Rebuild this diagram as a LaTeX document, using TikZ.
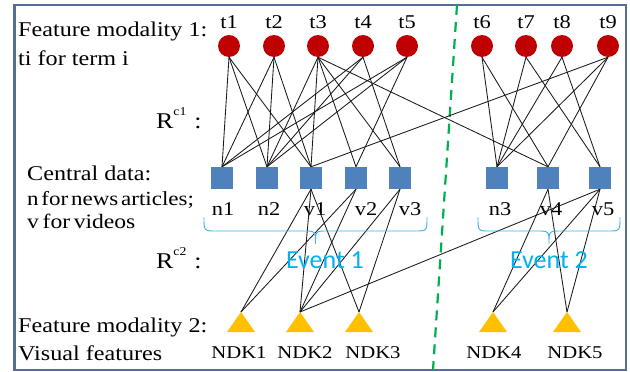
\documentclass[tikz,border=0pt]{standalone}
\usepackage{fontspec}
\setmainfont{Liberation Serif}[FakeStretch=1.15]
\newfontfamily\evfont{Carlito}
\definecolor{termred}{RGB}{192,0,0}
\definecolor{docblue}{RGB}{79,129,189}
\definecolor{ndkgold}{RGB}{255,192,0}
\definecolor{evblue}{RGB}{0,176,240}
\definecolor{braceblue}{RGB}{60,180,230}
\definecolor{dashgreen}{RGB}{0,176,80}
\definecolor{framecol}{RGB}{85,110,145}
\tikzset{
  term/.style={circle, fill=termred, minimum size=22pt, inner sep=0pt},
  docbox/.style={rectangle, fill=docblue, minimum size=22pt, inner sep=0pt},
  lbl/.style={font=\fontsize{19.5}{19.5}\selectfont, inner sep=0pt, anchor=base},
  txt/.style={font=\fontsize{21}{21}\selectfont, inner sep=0pt, anchor=base west},
  rtxt/.style={font=\fontsize{22.5}{22.5}\selectfont, inner sep=0pt, anchor=base west},
  link/.style={draw=black!90, line width=0.85pt},
  brc/.style={draw=braceblue, line width=0.9pt},
  evt/.style={font=\evfont\fontsize{26}{26}\selectfont, text=evblue, inner sep=0pt, anchor=base},
  ndk/.style={fill=ndkgold},
}
\begin{document}
\begin{tikzpicture}[x=1pt,y=-1pt]
\useasboundingbox (0,0) rectangle (630,372);
\draw[framecol, line width=1.6pt] (14,5) rectangle (626,370);
\draw[framecol, line width=1.2pt] (15.5,5) -- (15.5,370);

% dashed separator
\coordinate (dtop) at (457,5);
\coordinate (dbot) at (433,370);
\draw[dashgreen, line width=2.2pt, dash pattern=on 10pt off 7pt] (dtop) -- (dbot);

% left texts
\node[txt] (fm1) at (18,36) {Feature modality 1:};
\node[txt] (ti) at (18,65) {ti for term i};
\node[rtxt] (rc1) at (156,128) {R\raisebox{13pt}{\fontsize{12}{12}\selectfont c1}\hspace{8pt}:};
\node[txt] (cd) at (27,180) {Central data:};
\node[txt, font=\fontsize{20}{20}\selectfont] (nf) at (27,205) {\spaceskip=0.14em\relax n for news articles;};
\node[txt, font=\fontsize{20.5}{20.5}\selectfont] (vf) at (27,228) {\spaceskip=0.18em\relax v for videos};
\node[rtxt] (rc2) at (156,268) {R\raisebox{13pt}{\fontsize{12}{12}\selectfont c2}\hspace{8pt}:};
\node[txt] (fm2) at (18,332) {Feature modality 2:};
\node[txt] (vis) at (18,360) {Visual features};

% terms
\foreach \n/\x in {1/229,2/274,3/318,4/363,5/407,6/482,7/526,8/562,9/608}{
  \node[term] (t\n) at (\x,46) {};
  \node[lbl] (lt\n) at (\x,28) {t\n};
}

% central data
\foreach \n/\x/\lx in {n1/222/223,n2/267/269,v1/311/315,v2/356/366,v3/400/410,n3/497/500,v4/548/551,v5/600/603}{
  \node[docbox] (\n) at (\x,178) {};
  \node[lbl] (l\n) at (\lx,215) {\n};
}

% NDK triangles
\foreach \n/\x/\lx in {1/241/239,2/300/305,3/359/373,4/493/494,5/567/575}{
  \coordinate (k\n) at (\x,312);
  \fill[ndk] (k\n) -- ++(14,20) -- ++(-28,0) -- cycle;
  \node[lbl, font=\fontsize{18}{18}\selectfont] (lk\n) at (\lx,358) {NDK\n};
}

% R^c1 edges
\foreach \a/\b in {t1/n1,t1/n2,t1/v1,t2/n1,t2/n2,t2/v1,t3/n2,t3/v1,t3/v2,t3/v3,t3/v4,
  t4/n1,t4/n2,t4/v3,t5/n1,t5/n2,t5/v2,t6/n3,t6/v4,t7/n3,t7/v5,t8/n3,t8/v5,t9/n3,t9/v4,t9/v1}{
  \draw[link] (\a.south) -- (\b.north);
}
% R^c2 edges
\foreach \a/\b in {v1/k1,v1/k2,v1/k3,v2/k1,v2/k2,v3/k2,v3/k3,v4/k4,v4/k5,v5/k4,v5/k5,v5/k2}{
  \draw[link] (\a.south) -- (\b);
}

% braces
\draw[brc] (204,217) .. controls (204,231) and (204,231) .. (216,231) -- (303.5,231)
  .. controls (315.5,231) and (315.5,231) .. (315.5,244)
  .. controls (315.5,231) and (315.5,231) .. (327.5,231) -- (415,231)
  .. controls (427,231) and (427,231) .. (427,217);
\draw[brc] (478,217) .. controls (478,231) and (478,231) .. (490,231) -- (537,231)
  .. controls (549,231) and (549,231) .. (549,244)
  .. controls (549,231) and (549,231) .. (561,231) -- (608,231)
  .. controls (620,231) and (620,231) .. (620,217);
\node[evt] (ev1) at (325,268) {Event 1};
\node[evt] (ev2) at (549,268) {Event 2};
\end{tikzpicture}
\end{document}
